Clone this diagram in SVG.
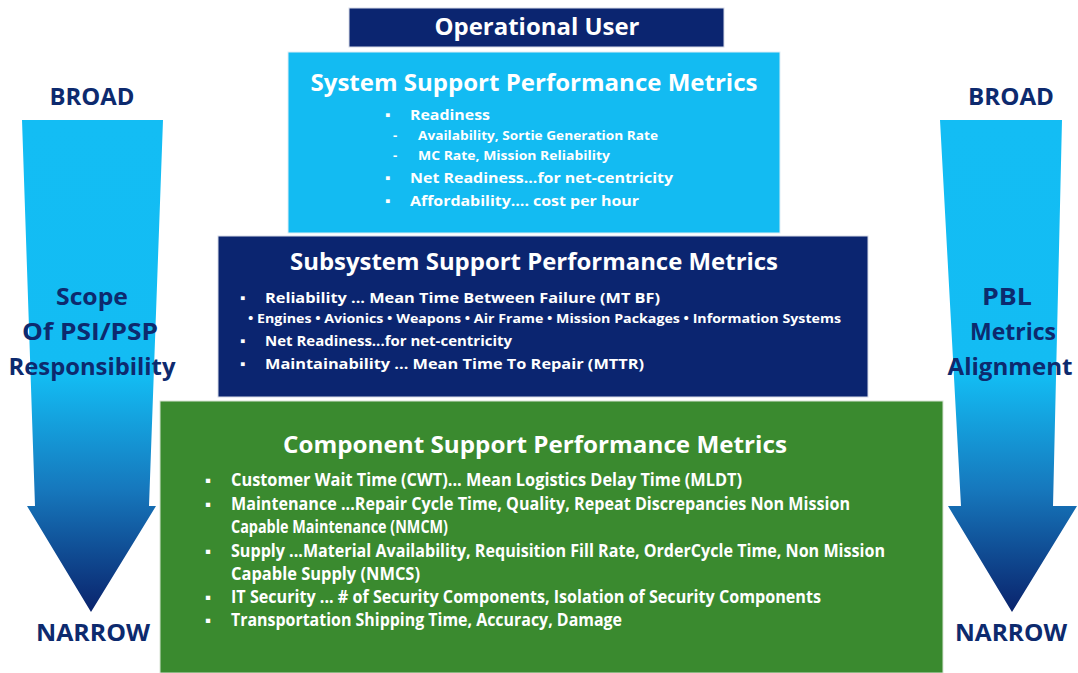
<svg xmlns="http://www.w3.org/2000/svg" width="1078" height="673" viewBox="0 0 1078 673">
<defs>
<linearGradient id="arrowGrad" x1="0" y1="0" x2="0" y2="1">
<stop offset="0" stop-color="#13BDF4"/>
<stop offset="0.52" stop-color="#13BCF3"/>
<stop offset="0.75" stop-color="#1678BD"/>
<stop offset="1" stop-color="#0A236C"/>
</linearGradient>
<style>
text{font-family:"Open Sans","Liberation Sans",sans-serif;font-weight:bold;}
.w{fill:#ffffff;}
.n{fill:#0D2A6E;}
.t{font-size:23px;text-anchor:middle;}
.b{font-size:15px;}
.s{font-size:13px;}
.c{font-size:17px;}
.lab{font-size:23px;text-anchor:middle;}
</style>
</defs>
<rect width="1078" height="673" fill="#ffffff"/>

<g id="left-arrow">
<path d="M22,120 L163,120 L149,506 L156,506 L91,612 L27,506 L35,506 Z" fill="url(#arrowGrad)"/>
<text class="n lab" x="92" y="105" textLength="85" lengthAdjust="spacingAndGlyphs">BROAD</text>
<text class="n lab" x="92" y="305" textLength="72" lengthAdjust="spacingAndGlyphs">Scope</text>
<text class="n lab" x="90" y="340" textLength="136" lengthAdjust="spacingAndGlyphs">Of PSI/PSP</text>
<text class="n lab" x="92" y="375" textLength="167" lengthAdjust="spacingAndGlyphs">Responsibility</text>
<text class="n lab" x="93" y="641" textLength="114" lengthAdjust="spacingAndGlyphs">NARROW</text>
</g>

<g id="right-arrow">
<path d="M940,120 L1062,120 L1053,506 L1077,506 L1012,612 L948,506 L961,506 Z" fill="url(#arrowGrad)"/>
<text class="n lab" x="1011" y="105" textLength="86" lengthAdjust="spacingAndGlyphs">BROAD</text>
<text class="n lab" x="1007" y="305" textLength="50" lengthAdjust="spacingAndGlyphs">PBL</text>
<text class="n lab" x="1013" y="340" textLength="86" lengthAdjust="spacingAndGlyphs">Metrics</text>
<text class="n lab" x="1010" y="375" textLength="125" lengthAdjust="spacingAndGlyphs">Alignment</text>
<text class="n lab" x="1011" y="641" textLength="112" lengthAdjust="spacingAndGlyphs">NARROW</text>
</g>

<g id="operational-user">
<rect x="349" y="8" width="375" height="39" fill="#0B2570" stroke="#d8dce8" stroke-width="1"/>
<text class="w t" x="537" y="35" font-size="24" textLength="205" lengthAdjust="spacingAndGlyphs">Operational User</text>
</g>

<g id="system-metrics">
<rect x="288" y="52" width="492" height="181" fill="#13BBF2" stroke="#e0eef6" stroke-width="1"/>
<text class="w t" x="534" y="91" textLength="447" lengthAdjust="spacingAndGlyphs">System Support Performance Metrics</text>
<text class="w b" x="385" y="120">▪</text>
<text class="w b" x="410" y="120" textLength="80" lengthAdjust="spacingAndGlyphs">Readiness</text>
<text class="w s" x="393" y="140">-</text>
<text class="w s" x="418" y="140" textLength="240" lengthAdjust="spacingAndGlyphs">Availability, Sortie Generation Rate</text>
<text class="w s" x="393" y="160">-</text>
<text class="w s" x="418" y="160" textLength="192" lengthAdjust="spacingAndGlyphs">MC Rate, Mission Reliability</text>
<text class="w b" x="385" y="183">▪</text>
<text class="w b" x="410" y="183" textLength="263" lengthAdjust="spacingAndGlyphs">Net Readiness...for net-centricity</text>
<text class="w b" x="385" y="206">▪</text>
<text class="w b" x="410" y="206" textLength="229" lengthAdjust="spacingAndGlyphs">Affordability…. cost per hour</text>
</g>

<g id="subsystem-metrics">
<rect x="218" y="236" width="650" height="161" fill="#0B2570" stroke="#d8dce8" stroke-width="1"/>
<text class="w t" x="534" y="270" textLength="488" lengthAdjust="spacingAndGlyphs">Subsystem Support Performance Metrics</text>
<text class="w b" x="240" y="303">▪</text>
<text class="w b" x="265" y="303" textLength="395" lengthAdjust="spacingAndGlyphs">Reliability ... Mean Time Between Failure (MT BF)</text>
<text class="w s" x="248" y="323" textLength="593" lengthAdjust="spacingAndGlyphs">• Engines • Avionics • Weapons • Air Frame • Mission Packages • Information Systems</text>
<text class="w b" x="240" y="346">▪</text>
<text class="w b" x="265" y="346" textLength="247" lengthAdjust="spacingAndGlyphs">Net Readiness...for net-centricity</text>
<text class="w b" x="240" y="369">▪</text>
<text class="w b" x="265" y="369" textLength="379" lengthAdjust="spacingAndGlyphs">Maintainability ... Mean Time To Repair (MTTR)</text>
</g>

<g id="component-metrics">
<rect x="160" y="401" width="783" height="272" fill="#3A8A2F" stroke="#d8e4d4" stroke-width="1"/>
<text class="w t" x="535" y="453" textLength="504" lengthAdjust="spacingAndGlyphs">Component Support Performance Metrics</text>
<text class="w c" x="205" y="486">▪</text>
<text class="w c" x="231" y="486" textLength="511" lengthAdjust="spacingAndGlyphs">Customer Wait Time (CWT)... Mean Logistics Delay Time (MLDT)</text>
<text class="w c" x="205" y="510">▪</text>
<text class="w c" x="231" y="510" textLength="619" lengthAdjust="spacingAndGlyphs">Maintenance ...Repair Cycle Time, Quality, Repeat Discrepancies Non Mission</text>
<text class="w c" x="231" y="533" textLength="217" lengthAdjust="spacingAndGlyphs">Capable Maintenance (NMCM)</text>
<text class="w c" x="205" y="557">▪</text>
<text class="w c" x="231" y="557" textLength="654" lengthAdjust="spacingAndGlyphs">Supply ...Material Availability, Requisition Fill Rate, OrderCycle Time, Non Mission</text>
<text class="w c" x="231" y="580" textLength="189" lengthAdjust="spacingAndGlyphs">Capable Supply (NMCS)</text>
<text class="w c" x="205" y="603">▪</text>
<text class="w c" x="231" y="603" textLength="590" lengthAdjust="spacingAndGlyphs">IT Security ... # of Security Components, Isolation of Security Components</text>
<text class="w c" x="205" y="626">▪</text>
<text class="w c" x="231" y="626" textLength="391" lengthAdjust="spacingAndGlyphs">Transportation Shipping Time, Accuracy, Damage</text>
</g>
</svg>
